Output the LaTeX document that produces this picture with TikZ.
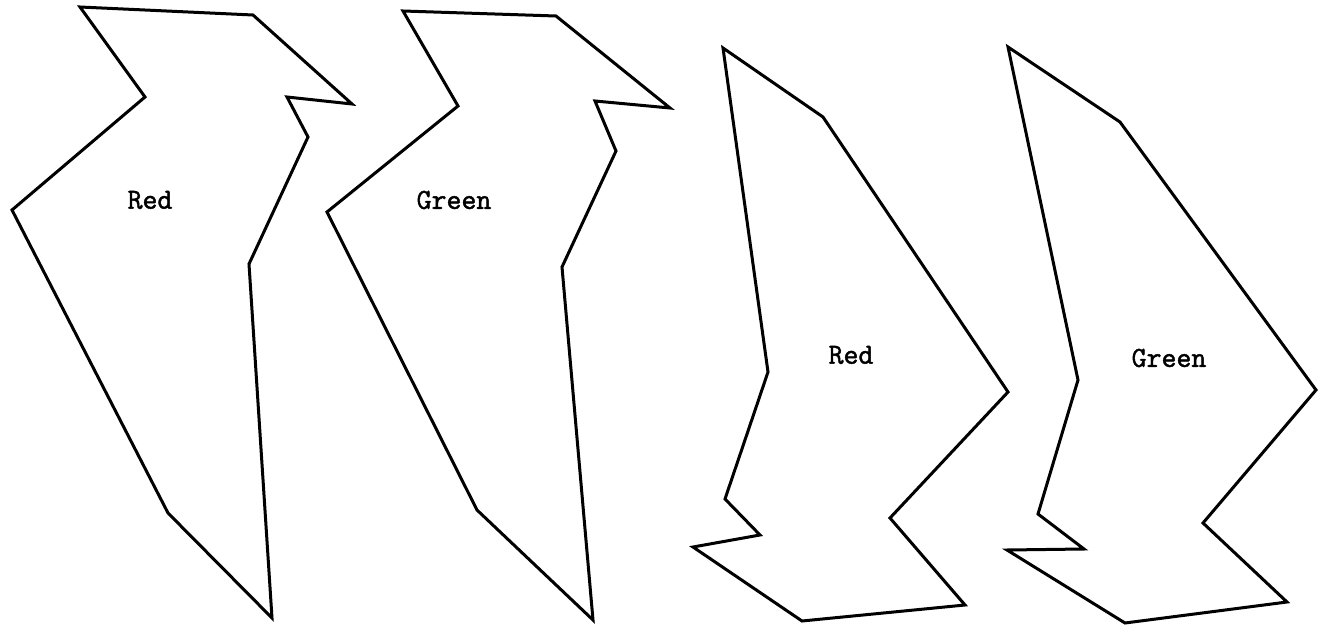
\documentclass[tikz,border=0pt]{standalone}
\usepackage{fontspec}
\newfontfamily\typer[FakeBold=1.6]{Latin Modern Mono}
\usepackage{tikz}
\usetikzlibrary{positioning}
\tikzset{
  outline/.style={draw, line width=3pt, line join=miter, miter limit=4},
  tag/.style={font=\fontsize{29}{32}\selectfont\typer, inner sep=0pt},
}

\begin{document}
\begin{tikzpicture}[x=1pt, y=-1pt]
  \useasboundingbox (0,0) rectangle (1318,626);

  % first pair
  \draw[outline] (80,7) -- (253,15) -- (352,104) -- (287,97) -- (308,137)
    -- (249,264) -- (272,618) -- (168,513) -- (12,210) -- (145,97) -- cycle;
  \node[tag] (red1) at (150,200) {Red};

  \draw[outline] (403,11) -- (556,16) -- (670,108) -- (595,101) -- (616,151)
    -- (562,267) -- (593,620) -- (477,510) -- (327,212) -- (458,106) -- cycle;
  \node[tag] (green1) at (454,200) {Green};

  % second pair
  \draw[outline] (723,48) -- (823,117) -- (1008,392) -- (890,518) -- (965,605)
    -- (802,621) -- (693,547) -- (760,535) -- (725,499) -- (768,372) -- cycle;
  \node[tag] (red2) at (851,355) {Red};

  \draw[outline] (1008,47) -- (1120,122) -- (1316,390) -- (1203,523) -- (1287,602)
    -- (1125,623) -- (1007,550) -- (1084,549) -- (1038,514) -- (1078,380) -- cycle;
  \node[tag] (green2) at (1169,358) {Green};
\end{tikzpicture}
\end{document}
